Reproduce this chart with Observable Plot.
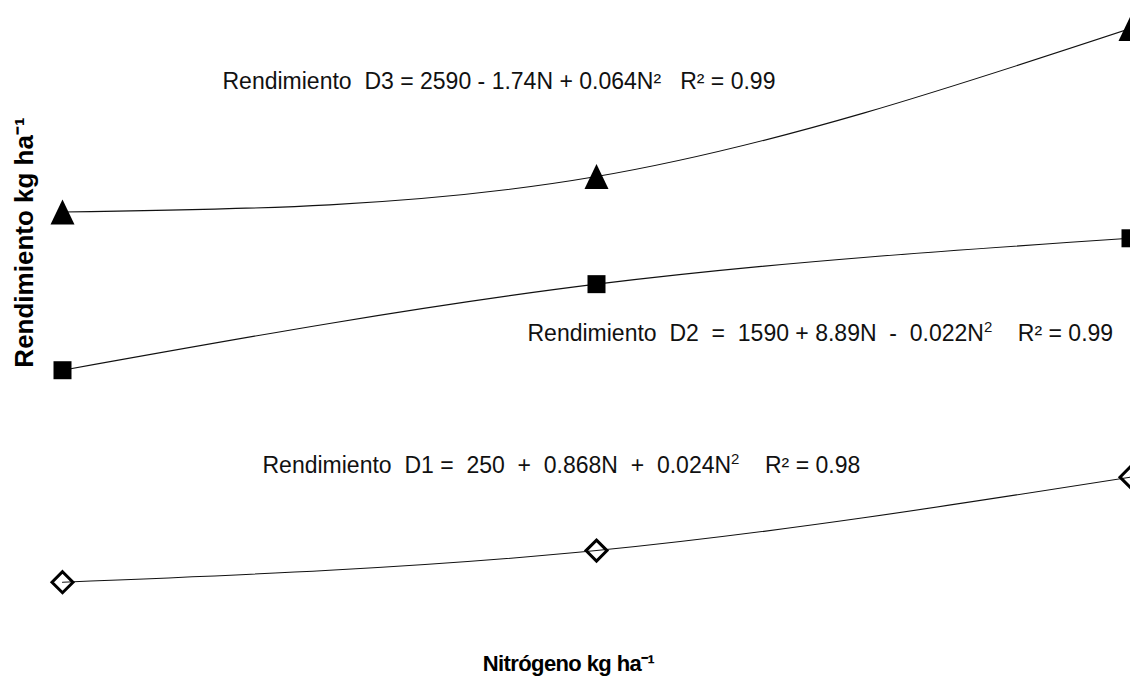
<!DOCTYPE html>
<html>
<head>
<meta charset="utf-8">
<script src="https://cdn.jsdelivr.net/npm/d3@7"></script>
<script src="https://cdn.jsdelivr.net/npm/@observablehq/plot@0.6"></script>
<style>
  html, body { margin: 0; padding: 0; background: #fff; }
  #chart svg text { white-space: pre; }
</style>
</head>
<body>
<div id="chart"></div>
<script>
// Nitrogen doses (kg ha-1)
const nitrogen = [0, 75, 150];
// Yield (kg ha-1) per density
const yieldD1 = [250, 450, 914];
const yieldD2 = [1590, 2134, 2424];
const yieldD3 = [2590, 2814, 3750];
const seriesNames = ["D1", "D2", "D3"];
// Regression equation labels
const eqD3 = "Rendimiento  D3 = 2590 - 1.74N + 0.064N²   R² = 0.99";
const eqD2 = "Rendimiento  D2  =  1590 + 8.89N  -  0.022N²    R² = 0.99";
const eqD1 = "Rendimiento  D1 =  250  +  0.868N  +  0.024N²    R² = 0.98";
const xLabel = "Nitrógeno kg ha⁻¹";
const yLabel = "Rendimiento kg ha⁻¹";

const seriesValues = [yieldD1, yieldD2, yieldD3];
const rows = seriesNames.flatMap((s, i) =>
  nitrogen.map((n, j) => ({series: s, N: n, value: seriesValues[i][j]})));

const triangleSym = {
  draw(ctx) {
    ctx.moveTo(0, -12.5);
    ctx.lineTo(12, 12.5);
    ctx.lineTo(-12, 12.5);
    ctx.closePath();
  }
};
const squareSym = {
  draw(ctx) {
    ctx.moveTo(-9, -9);
    ctx.lineTo(9, -9);
    ctx.lineTo(9, 9);
    ctx.lineTo(-9, 9);
    ctx.closePath();
  }
};
const diamondSym = {
  draw(ctx) {
    ctx.moveTo(0, -10.5);
    ctx.lineTo(10.5, 0);
    ctx.lineTo(0, 10.5);
    ctx.lineTo(-10.5, 0);
    ctx.closePath();
  }
};

const font = "'Liberation Sans', Arial, sans-serif";
const eqStyle = {textAnchor: "start", lineAnchor: "middle", fontSize: 23, fill: "#111"};

const chart = Plot.plot({
  width: 1130,
  height: 676,
  marginLeft: 62,
  marginRight: 0,
  marginTop: 0,
  marginBottom: 0,
  style: {fontFamily: font, background: "#fff"},
  x: {domain: [0, 150], axis: null},
  y: {domain: [-346, 3927], axis: null},
  marks: [
    Plot.line(rows, {x: "N", y: "value", z: "series", curve: "natural", stroke: "#111", strokeWidth: 1.1}),
    Plot.dot(rows.filter(d => d.series === "D3"), {x: "N", y: "value", symbol: triangleSym, fill: "#000", stroke: "none"}),
    Plot.dot(rows.filter(d => d.series === "D2"), {x: "N", y: "value", symbol: squareSym, fill: "#000", stroke: "none"}),
    Plot.dot(rows.filter(d => d.series === "D1"), {x: "N", y: "value", symbol: diamondSym, fill: "none", stroke: "#000", strokeWidth: 3}),
    Plot.text([eqD3], {text: d => d, frameAnchor: "top-left", dx: 222 - 62, dy: 81, ...eqStyle}),
    Plot.text([eqD2], {text: d => d, frameAnchor: "top-left", dx: 527 - 62, dy: 333, ...eqStyle}),
    Plot.text([eqD1], {text: d => d, frameAnchor: "top-left", dx: 262 - 62, dy: 465, ...eqStyle}),
    Plot.text([xLabel], {text: d => d, frameAnchor: "top-left", dx: 568 - 62, dy: 663, textAnchor: "middle", lineAnchor: "middle", fontSize: 22, fontWeight: "bold", fill: "#000", className: "xlab"}),
    Plot.text([yLabel], {text: d => d, frameAnchor: "top-left", dx: 24 - 62, dy: 242, rotate: -90, textAnchor: "middle", lineAnchor: "middle", fontSize: 26, fontWeight: "bold", fill: "#000"})
  ]
});
document.getElementById("chart").appendChild(chart);

// slightly condensed look for the x-axis title
d3.select(chart).selectAll(".xlab text").style("letter-spacing", "-0.6px");

// D1 and D2 equations use a raised, smaller "2" for N squared
d3.select(chart).selectAll("text").each(function() {
  const t = this.textContent;
  if (t !== eqD2 && t !== eqD1) return;
  const i = t.indexOf("N²");
  const sel = d3.select(this);
  sel.text(null);
  sel.append("tspan").text(t.slice(0, i + 1));
  sel.append("tspan").attr("dy", -9).attr("font-size", 15).text("2");
  sel.append("tspan").attr("dy", 9).text(t.slice(i + 2));
});
</script>
</body>
</html>
